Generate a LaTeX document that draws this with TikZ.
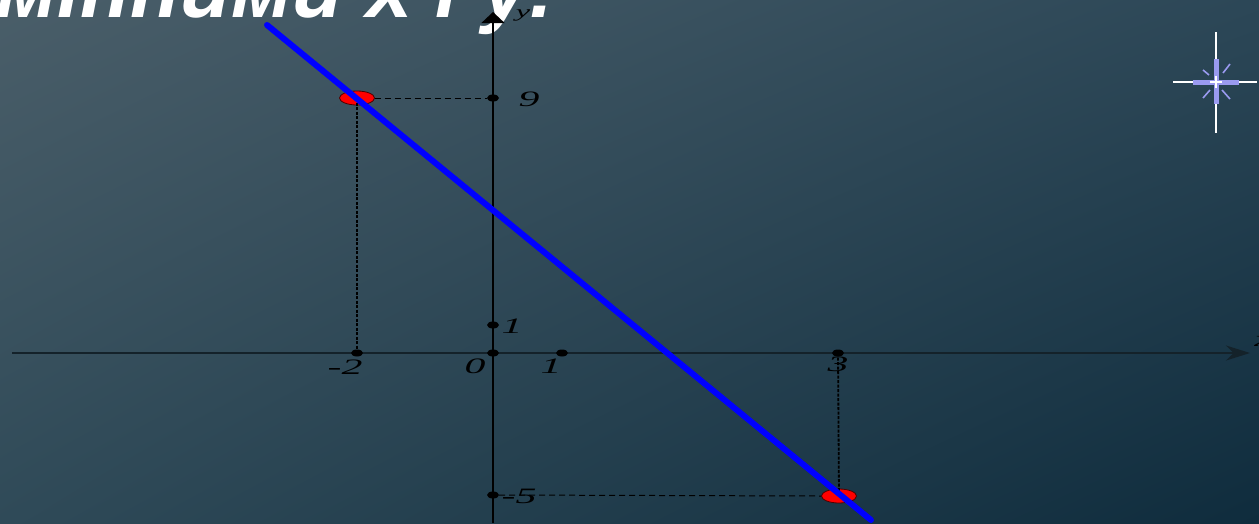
\documentclass[tikz,border=0pt]{standalone}
\usepackage{fontspec}
\setmainfont{Liberation Serif}
\newfontfamily\titlefont{Liberation Sans}
\usetikzlibrary{arrows.meta,shapes.geometric,shadings}
\definecolor{bgTL}{HTML}{4A5E69}
\definecolor{bgTR}{HTML}{2C4757}
\definecolor{bgBL}{HTML}{2F4A58}
\definecolor{bgBR}{HTML}{0F2C3D}
\definecolor{axiscol}{HTML}{14222A}
\definecolor{sparkle}{HTML}{9A9AF0}
\newcommand{\widelbl}[1]{\scalebox{1.9}[1]{#1}}
\tikzset{
  axisline/.style={draw=axiscol, line width=1.6pt},
  tickdot/.style={fill=black, ellipse, minimum width=12pt, minimum height=7pt, inner sep=0pt},
  lbl/.style={font=\fontsize{22}{22}\selectfont\itshape, text=black, inner sep=0pt},
  guide/.style={draw=black, line width=1pt, dash pattern=on 6pt off 4pt},
  vguide/.style={draw=black, line width=1.8pt, dash pattern=on 3pt off 1.5pt},
  pointmark/.style={ellipse, draw=black!70!red, line width=0.8pt, fill=red, minimum width=35pt, minimum height=14pt, inner sep=0pt},
  graphline/.style={draw=blue, line width=6pt, line cap=round},
}
\begin{document}
\begin{tikzpicture}[x=1pt, y=-1pt]
\useasboundingbox (0,0) rectangle (1259,523);
\clip (0,0) rectangle (1259,523);
\shade[upper left=bgTL, upper right=bgTR, lower left=bgBL, lower right=bgBR] (0,0) rectangle (1259,523);

% title (cut at the top)
\node[anchor=base east, inner sep=0pt, text=white, font=\titlefont\bfseries\itshape\fontsize{83}{90}\selectfont] (title) at (556,17) {змінними x і y:};

% axes
\coordinate (xs) at (12,353);
\coordinate (xe) at (1250,353);
\coordinate (ys) at (493,523);
\coordinate (ye) at (493,12);
\draw[axisline, -{Stealth[length=24pt, width=15pt]}] (xs) -- (xe);
\draw[draw=black, line width=1.4pt, -{Triangle[length=11pt, width=23pt]}] (ys) -- (ye);
\node[lbl, font=\fontsize{17}{17}\selectfont\itshape] (ylab) at (523,15) {\widelbl{y}};
\node[lbl] (xlab) at (1264,341) {\widelbl{x}};

% ticks
\node[tickdot] (o) at (493,353) {};
\node[tickdot] (x1) at (562,353) {};
\node[tickdot] (xm2) at (357,353) {};
\node[tickdot] (x3) at (838,353) {};
\node[tickdot] (y1) at (493,325) {};
\node[tickdot] (y9) at (493,98) {};
\node[tickdot] (ym5) at (493,495) {};

\node[lbl] (lo) at (475,366) {\widelbl{0}};
\node[lbl] (l1x) at (551,366) {\widelbl{1}};
\node[lbl] (lm2) at (345,367) {\widelbl{-2}};
\node[lbl] (l3) at (838,364) {\widelbl{3}};
\node[lbl] (l1y) at (512,326) {\widelbl{1}};
\node[lbl] (l9) at (529,99) {\widelbl{9}};
\node[lbl] (lm5) at (519,496) {\widelbl{-5}};

% points
\node[pointmark] (A) at (357,98) {};
\node[pointmark] (B) at (839,496) {};

% guides
\draw[guide] (A.east) -- (y9.west);
\draw[vguide] (A.center) -- (xm2.center);
\draw[guide] (ym5.east) -- (B.west);
\draw[vguide] (x3.center) -- (B.center);

% graph line
\coordinate (g1) at (267,25);
\coordinate (g2) at (871,520);
\draw[graphline] (g1) -- (g2);

% sparkle
\coordinate (sc) at (1216,82);
\draw[white, line width=1.2pt] (1216,32) -- (1216,133);
\draw[white, line width=1.2pt] (1173,82) -- (1257,82);
\draw[sparkle, line width=5pt] (1216,59) -- (1216,104);
\draw[sparkle, line width=5pt] (1193,82) -- (1239,82);
\draw[sparkle, line width=1.6pt] (1203,70) -- (1209,75) (1230,64) -- (1223,73) (1203,98) -- (1210,90) (1230,99) -- (1222,90);
\draw[white, line width=1.2pt] (1210,82) -- (1222,82) (1216,76) -- (1216,88);
\end{tikzpicture}
\end{document}
